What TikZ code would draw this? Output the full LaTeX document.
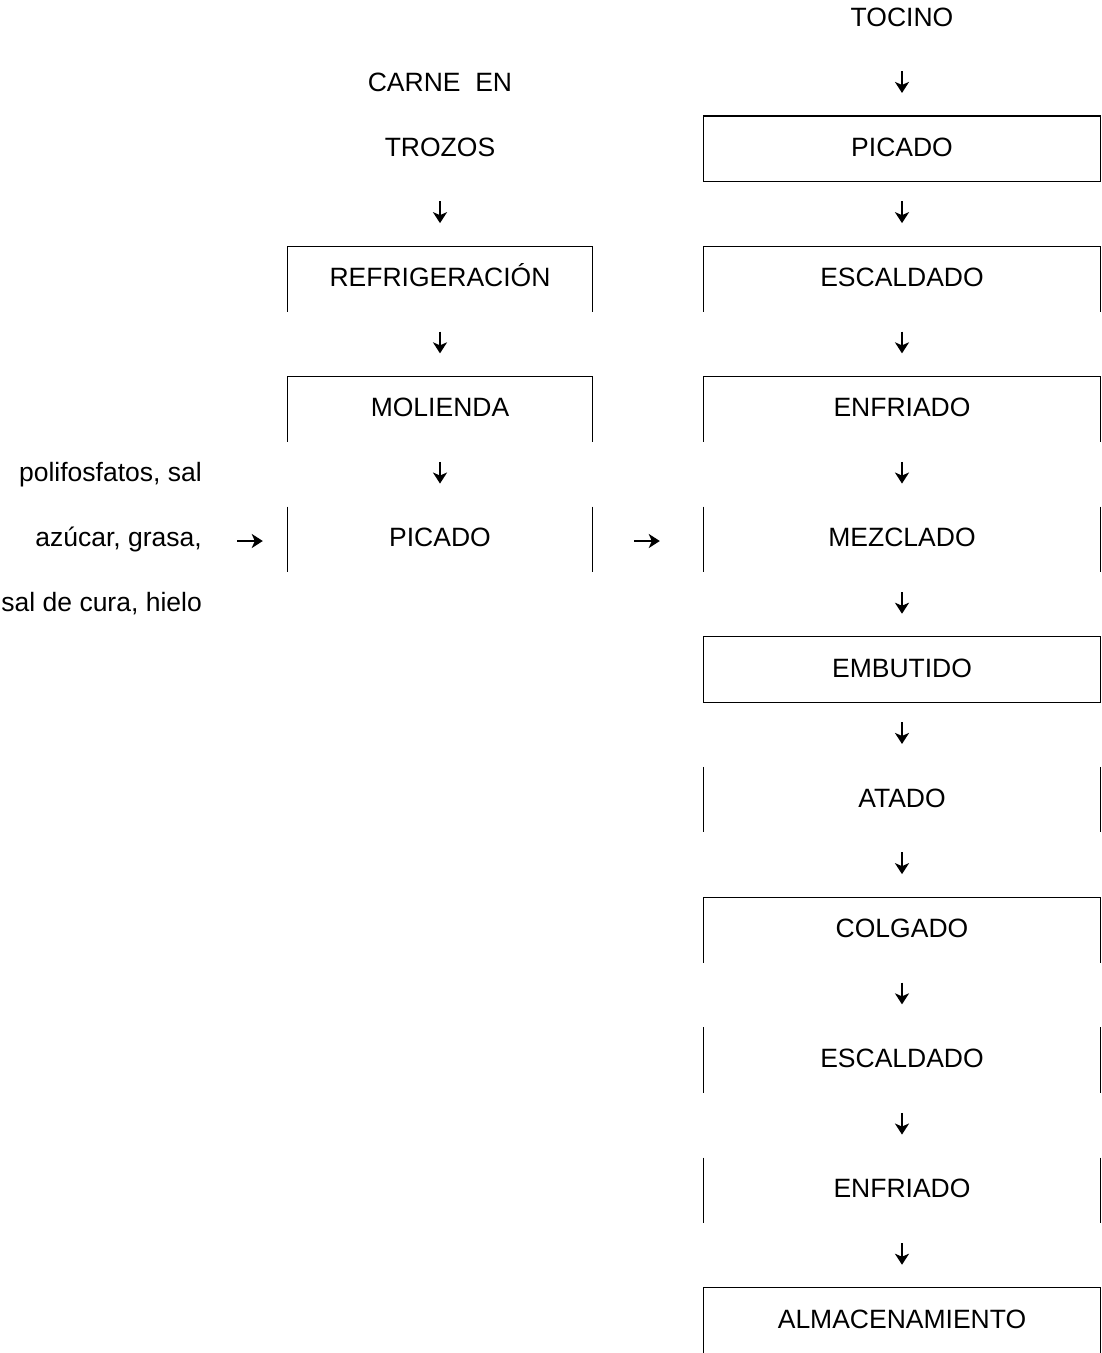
\documentclass[tikz,border=0pt]{standalone}
\usepackage{fontspec}
\setmainfont{Liberation Sans}
\usetikzlibrary{arrows.meta}
\newcommand\cellsides[1]{\draw[frame] (#1.north west) -- (#1.south west) (#1.north east) -- (#1.south east);}
\newcommand\celltopsides[1]{\draw[frame] (#1.south west) -- (#1.north west) -- (#1.north east) -- (#1.south east);}
\newcommand\cellfull[1]{\draw[frame] (#1.north west) rectangle (#1.south east);}
\begin{document}
\begin{tikzpicture}[x=1pt,y=-1pt,
  cell/.style={inner sep=0pt, text height=19pt, text depth=4pt, minimum height=65.1pt, font=\fontsize{26.5pt}{30pt}\selectfont},
  lcell/.style={cell, minimum width=304pt},
  rcell/.style={cell, minimum width=396pt},
  frame/.style={line width=1.3pt},
  flow/.style={line width=2pt, -{Stealth[length=11pt,width=14pt,inset=3pt]}, shorten <=20pt, shorten >=23pt},
  side/.style={line width=2pt, -{Stealth[length=11pt,width=14pt,inset=3pt]}},
]
\useasboundingbox (0,0) rectangle (1102,1353);

% right column
\node[rcell] (tocino) at (902,18.5) {TOCINO};
\node[rcell] (r2) at (902,148.7) {PICADO};
\node[rcell] (r4) at (902,278.9) {ESCALDADO};
\node[rcell] (r6) at (902,409.1) {ENFRIADO};
\node[rcell] (r8) at (902,539.3) {MEZCLADO};
\node[rcell] (r10) at (902,669.5) {EMBUTIDO};
\node[rcell] (r12) at (902,799.7) {ATADO};
\node[rcell] (r14) at (902,929.9) {COLGADO};
\node[rcell] (r16) at (902,1060.1) {ESCALDADO};
\node[rcell] (r18) at (902,1190.3) {ENFRIADO};
\node[rcell] (r20) at (902,1320.5) {ALMACENAMIENTO};

% left column
\node[lcell] (carne) at (440,83.6) {CARNE\ \ EN};
\node[lcell] (trozos) at (440,148.7) {TROZOS};
\node[lcell] (l4) at (440,278.9) {REFRIGERACIÓN};
\node[lcell] (l6) at (440,409.1) {MOLIENDA};
\node[lcell] (l8) at (440,539.3) {PICADO};

% additives
\node[cell, anchor=east] (add1) at (202,474.2) {polifosfatos, sal};
\node[cell, anchor=east] (add2) at (202,539.3) {azúcar, grasa,};
\node[cell, anchor=east] (add3) at (202,604.4) {sal de cura, hielo};

% borders
\cellfull{r2}
\celltopsides{r4}
\celltopsides{r6}
\cellsides{r8}
\cellfull{r10}
\cellsides{r12}
\celltopsides{r14}
\cellsides{r16}
\cellsides{r18}
\celltopsides{r20}
\celltopsides{l4}
\celltopsides{l6}
\cellsides{l8}

% vertical arrows
\draw[flow] (tocino) -- (r2);
\draw[flow] (r2) -- (r4);
\draw[flow] (r4) -- (r6);
\draw[flow] (r6) -- (r8);
\draw[flow] (r8) -- (r10);
\draw[flow] (r10) -- (r12);
\draw[flow] (r12) -- (r14);
\draw[flow] (r14) -- (r16);
\draw[flow] (r16) -- (r18);
\draw[flow] (r18) -- (r20);
\draw[flow] (trozos) -- (l4);
\draw[flow] (l4) -- (l6);
\draw[flow] (l6) -- (l8);

% horizontal arrows
\draw[side, shorten <=35pt, shorten >=25pt] ([yshift=-1.7pt]add2.east) -- ([yshift=-1.7pt]l8.west);
\draw[side, shorten <=42pt, shorten >=44pt] ([yshift=-1.7pt]l8.east) -- ([yshift=-1.7pt]r8.west);
\end{tikzpicture}
\end{document}
